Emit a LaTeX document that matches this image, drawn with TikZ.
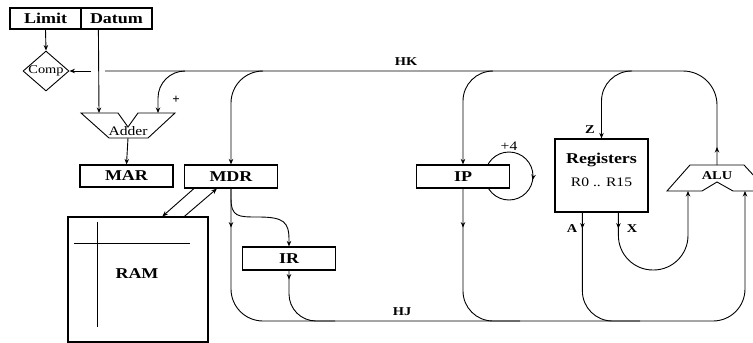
\documentclass[tikz,border=0pt]{standalone}
\usepackage{graphicx}
\usepackage{fontspec}
\setmainfont{Liberation Serif}
\usetikzlibrary{arrows.meta,shapes.geometric,decorations.markings,calc}
\newcommand\sx[1]{\scalebox{1.2}[1]{#1}}
\begin{document}
\begin{tikzpicture}[x=1pt,y=-1pt,
  >={Stealth[length=5.5pt,width=4.5pt]},
  wire/.style={line width=0.9pt},
  box/.style={draw, line width=1.2pt, fill=white, inner sep=0pt, minimum height=23pt, minimum width=93pt, font=\fontsize{15}{15}\selectfont\bfseries},
  marr/.style={postaction={decorate},decoration={markings,mark=at position #1 with {\arrow{>}}}},
  lab/.style={inner sep=0pt, font=\fontsize{12}{12}\selectfont\bfseries},
  small/.style={inner sep=0pt, font=\fontsize{13}{13}\selectfont},
]
\useasboundingbox (0,0) rectangle (753,343);

% loop around IP (drawn first, IP box covers part)
\coordinate (loop) at (509,176);
\draw[wire,marr=4pt] (loop) circle[radius=24];

% nodes
\node[box, minimum width=71pt, minimum height=21pt] (limit) at (45.5,18.5) {\sx{Limit}};
\node[box, minimum width=71pt, minimum height=21pt] (datum) at (116.5,18.5) {\sx{Datum}};
\node[diamond, draw, line width=0.9pt, minimum width=46pt, minimum height=40pt, inner sep=0pt, font=\fontsize{12}{12}\selectfont] (comp) at (46,71) {\makebox[16pt]{\sx{Comp}}};
\node[box, minimum height=22pt] (mar) at (126.5,176) {\sx{MAR}};
\node[box] (mdr) at (231,176.5) {\sx{MDR}};
\node[box] (ir) at (289,258.5) {\sx{IR}};
\node[box] (ip) at (463,176.5) {\sx{IP}};
\node[box, minimum height=73pt] (regs) at (601.5,175.5) {};
\node[inner sep=0pt, font=\fontsize{15}{15}\selectfont\bfseries] (regsT) at ($(regs.center)+(0,-15.5)$) {\sx{Registers}};
\node[inner sep=0pt, font=\fontsize{13}{13}\selectfont] (regsR) at ($(regs.center)+(0,6.5)$) {\sx{R0 .. R15}};
\node[draw, line width=1.2pt, minimum width=140pt, minimum height=125pt, inner sep=0pt] (ram) at (138,279.5) {};
\node[inner sep=0pt, font=\fontsize{15}{15}\selectfont\bfseries] (ramT) at (137,274) {\sx{RAM}};
\draw[wire] (97,222) -- (97,327);
\draw[wire] (74,243) -- (190,243);

% adder
\draw[wire] (81,113) -- (118,113) -- (128,127) -- (138,113) -- (175,113) -- (148,138) -- (109,138) -- cycle;
\node[small] (adder) at (128,131.5) {\sx{Adder}};
\coordinate (addL) at (99,113);
\coordinate (addR) at (158,113);
\coordinate (addO) at (128,138);

% ALU
\draw[wire] (690,165) -- (744,165) -- (768,191) -- (733,191) -- (717,182) -- (702,191) -- (667,191) -- cycle;
\node[inner sep=0pt, font=\fontsize{12}{12}\selectfont\bfseries] (alu) at (717,175.5) {\sx{ALU}};
\coordinate (aluT) at (717,165);
\coordinate (aluL) at (688,191);
\coordinate (aluR) at (745,191);

% bus coordinates
\coordinate (hkW) at (105,71);
\coordinate (hkC) at (91,71);
\coordinate (hjR) at (745,321);
\coordinate (xU) at (688,270);
\coordinate (rA) at ($(regs.south west)+(28,0)$);
\coordinate (rX) at ($(regs.south west)+(64,0)$);

% connectors top
\draw[wire,->] (limit.south) -- (comp.north);
\draw[wire,->] ($(datum.south west)+(18,0)$) -- (addL);
\draw[wire,->] (addO) -- (mar.north);
\draw[wire,rounded corners=34pt,marr=18pt] (aluT) |- (hkW);
\draw[wire,->] (hkC) -- (comp.east);
\draw[wire,->,rounded corners=27pt] (185,71) -| (addR);
\draw[wire,->,rounded corners=32pt] (263,71) -| (mdr.north);
\draw[wire,->,rounded corners=30pt] (493,71) -| (ip.north);
\draw[wire,->,rounded corners=30pt] (632,71) -| (regs.north);

% connectors bottom
\draw[wire,->,rounded corners=32pt,marr=39pt] (mdr.south) |- (hjR) -- (aluR);
\draw[wire,->] (mdr.south) -- (231,198) .. controls (231,217) and (238,217) .. (258,217) .. controls (284,217) and (289,222) .. (289,240) -- (ir.north);
\draw[wire,rounded corners=27pt,marr=9pt] (ir.south) |- (335,321);
\draw[wire,rounded corners=30pt,marr=39pt] (ip.south) |- (520,321);
\draw[wire,rounded corners=30pt,marr=16pt] (rA) |- (640,321);
\draw[wire,->,rounded corners=34.5pt,marr=16pt] (rX) |- (xU) -- (aluL);

% RAM <-> MDR
\draw[wire,->] ($(mdr.south west)+(10,0)$) -- ($(ram.north west)+(95,0)$);
\draw[wire,->] ($(ram.north west)+(117,0)$) -- ($(mdr.south west)+(33,0)$);

% labels
\node[lab] (hk) at (406,62) {\sx{HK}};
\node[lab] (hj) at (402,312) {\sx{HJ}};
\node[lab] (zl) at (590,130) {\sx{Z}};
\node[lab] (al) at (572,229) {\sx{A}};
\node[lab] (xl) at (632,229) {\sx{X}};
\node[inner sep=0pt, font=\fontsize{13}{13}\selectfont\bfseries] (plus) at (176,100) {+};
\node[inner sep=0pt, font=\fontsize{13}{13}\selectfont] (plus4) at (509,146) {\sx{+4}};
\end{tikzpicture}
\end{document}
